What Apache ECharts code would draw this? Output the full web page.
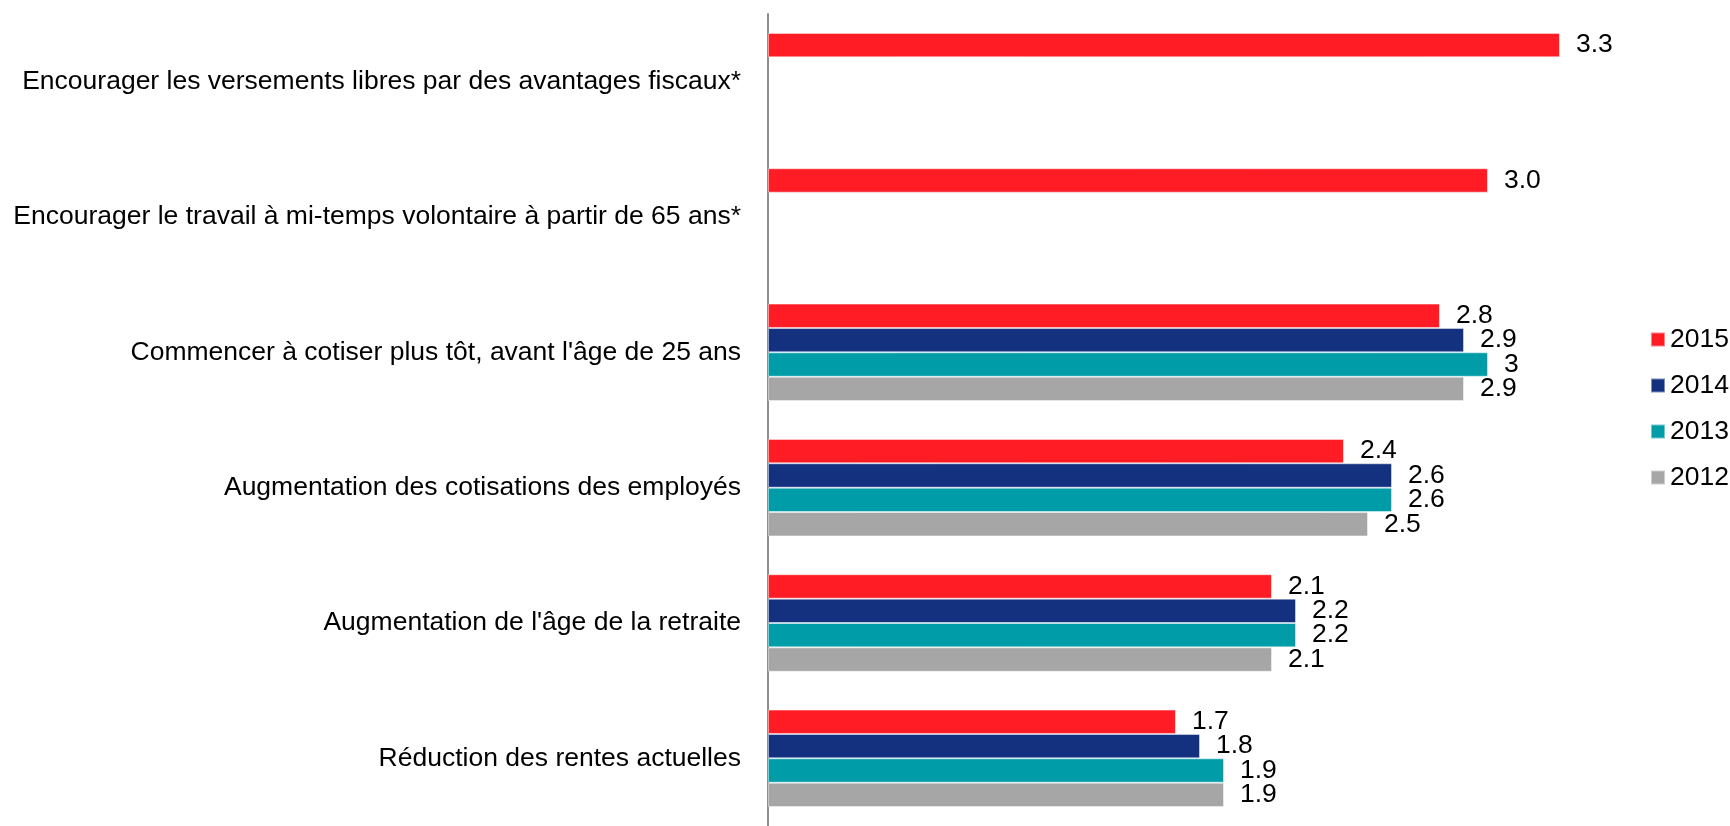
<!DOCTYPE html>
<html>
<head>
<meta charset="utf-8">
<script src="https://cdn.jsdelivr.net/npm/echarts@6/dist/echarts.min.js"></script>
<style>
  html, body { margin: 0; padding: 0; background: #fff; }
  #chart { width: 1730px; height: 826px; }
</style>
</head>
<body>
<div id="chart"></div>
<script>
const categories = [
  'Encourager les versements libres par des avantages fiscaux*',
  'Encourager le travail à mi-temps volontaire à partir de 65 ans*',
  "Commencer à cotiser plus tôt, avant l'âge de 25 ans",
  'Augmentation des cotisations des employés',
  "Augmentation de l'âge de la retraite",
  'Réduction des rentes actuelles',
]
const seriesNames = ['2015', '2014', '2013', '2012']
const values2015 = [3.3, 3.0, 2.8, 2.4, 2.1, 1.7]
const values2014 = [null, null, 2.9, 2.6, 2.2, 1.8]
const values2013 = [null, null, 3, 2.6, 2.2, 1.9]
const values2012 = [null, null, 2.9, 2.5, 2.1, 1.9]

const COLORS = ['#FF1C25', '#143180', '#009CA7', '#A6A6A6']
const FONT = '"Liberation Sans", Arial, sans-serif'
const FONT_SIZE = 26.5

// 2015 labels keep one decimal (3.0), the older years show the raw number (3)
const makeSeries = (name, data, color, fixed) => ({
  name,
  type: 'bar',
  data,
  barGap: '0%',
  barCategoryGap: '28%',
  itemStyle: {
    color,
    borderColor: 'rgba(255,255,255,0.45)',
    borderWidth: 1,
  },
  label: {
    show: true,
    position: 'right',
    distance: 16,
    color: '#000',
    fontSize: FONT_SIZE,
    fontFamily: FONT,
    padding: [2, 0, 0, 0],
    formatter: (p) => (fixed ? p.value.toFixed(1) : String(p.value)),
  },
})

const chart = echarts.init(document.getElementById('chart'))
chart.setOption({
  animation: false,
  textStyle: { fontFamily: FONT },
  grid: {
    left: 768,
    top: 14,
    width: 840,
    height: 816,
    containLabel: false,
  },
  legend: {
    orient: 'vertical',
    left: 1645,
    top: 321,
    itemWidth: 14,
    itemHeight: 14,
    itemGap: 19,
    icon: 'rect',
    data: seriesNames,
    textStyle: { color: '#000', fontSize: FONT_SIZE, fontFamily: FONT },
  },
  xAxis: {
    type: 'value',
    min: 0,
    max: 3.5,
    show: false,
  },
  yAxis: {
    type: 'category',
    inverse: true,
    data: categories,
    axisLine: { lineStyle: { color: '#8c8c8c', width: 2 } },
    axisTick: { length: 8, lineStyle: { color: '#8c8c8c', width: 2 } },
    axisLabel: {
      margin: 27,
      color: '#000',
      fontSize: FONT_SIZE,
      fontFamily: FONT,
      padding: [3, 0, 0, 0],
    },
  },
  series: [
    makeSeries('2015', values2015, COLORS[0], true),
    makeSeries('2014', values2014, COLORS[1], false),
    makeSeries('2013', values2013, COLORS[2], false),
    makeSeries('2012', values2012, COLORS[3], false),
  ],
})
</script>
</body>
</html>
